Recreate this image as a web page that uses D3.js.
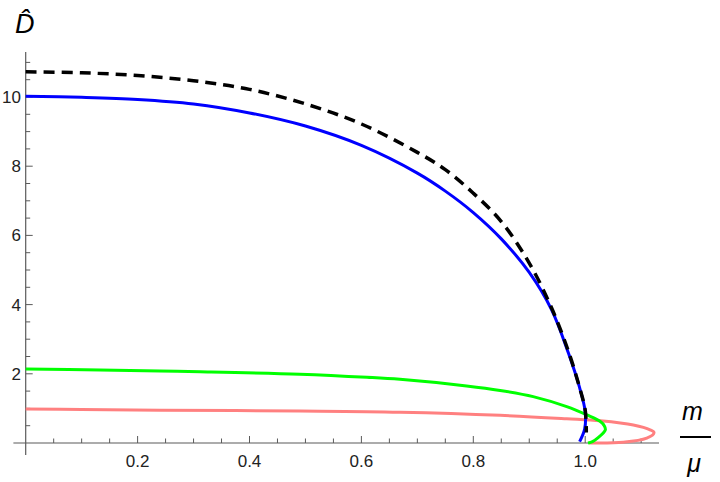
<!DOCTYPE html>
<html>
<head>
<meta charset="utf-8">
<script src="https://cdn.jsdelivr.net/npm/d3@7"></script>
<style>
  body { margin: 0; background: #fff; }
  svg { display: block; font-family: "Liberation Sans", Arial, sans-serif; }
</style>
</head>
<body>
<div id="my_plot"></div>
<script>
var width = 720, height = 482;

// tick values
var xMajor = [0.2, 0.4, 0.6, 0.8, 1.0];
var yMajor = [2, 4, 6, 8, 10];

// curves: [m/mu, D]
var pinkCurve = [[0,0.98],[0.1,0.97],[0.24,0.95],[0.49,0.925],[0.669,0.89],[0.848,0.8],[0.967,0.7],
  [1.027,0.64],[1.086,0.52],[1.116,0.38],[1.123,0.3],[1.11,0.14],[1.068,0.02],[1.007,0.0]];
var greenCurve = [[0,2.14],[0.133,2.11],[0.24,2.08],[0.312,2.06],[0.49,1.99],[0.61,1.9],
  [0.669,1.84],[0.788,1.65],[0.848,1.52],[0.907,1.34],[0.967,1.05],[1.003,0.81],[1.027,0.62],
  [1.034,0.5],[1.036,0.38],[1.022,0.14],[1.013,0.04],[1.005,0.0]];
var blueCurve = [[0,10.02],[0.1,9.99],[0.2,9.93],[0.3,9.8],[0.4,9.54],[0.5,9.16],[0.6,8.6],
  [0.7,7.8],[0.75,7.28],[0.8,6.66],[0.85,5.9],[0.9,4.93],[0.94,3.85],[0.97,2.6],[0.99,1.6],
  [1.0,0.9],[0.999,0.4],[0.99,0.04]];
var blackCurve = [[0,10.73],[0.1,10.7],[0.2,10.62],[0.3,10.47],[0.4,10.22],[0.5,9.8],[0.6,9.22],
  [0.7,8.4],[0.75,7.9],[0.8,7.22],[0.85,6.4],[0.9,5.2],[0.94,3.9],[0.97,2.65],[0.99,1.6],
  [1.0,0.95],[1.002,0.3]];

var svg = d3.select("#my_plot")
  .append("svg")
    .attr("width", width)
    .attr("height", height);

var x = d3.scaleLinear().domain([0, 1]).range([25.7, 585.2]);
var y = d3.scaleLinear().domain([0, 10]).range([443, 97]);

var axisColor = "#5a5a5a";

//X-axis line
svg.append("line")
  .attr("x1", x(-0.022)).attr("x2", x(1.132))
  .attr("y1", y(0)).attr("y2", y(0))
  .attr("stroke", axisColor).attr("stroke-width", 1.2);
//Y-axis line
svg.append("line")
  .attr("x1", x(0)).attr("x2", x(0))
  .attr("y1", y(-0.35)).attr("y2", y(11.3))
  .attr("stroke", axisColor).attr("stroke-width", 1.2);

// x ticks
var xTicks = d3.range(1, 23).map(function(i){ return i * 0.05; });
svg.append("g").selectAll("line")
  .data(xTicks)
  .enter()
  .append("line")
    .attr("x1", function(d){ return x(d); })
    .attr("x2", function(d){ return x(d); })
    .attr("y1", y(0))
    .attr("y2", function(d, i){ return y(0) - ((i + 1) % 4 == 0 ? 7 : 4.5); })
    .attr("stroke", axisColor);
svg.append("g").selectAll("text")
  .data(xMajor)
  .enter()
  .append("text")
    .attr("x", function(d){ return x(d); })
    .attr("y", 467)
    .attr("text-anchor", "middle")
    .style("font-size", "17px")
    .attr("fill", "#222")
    .text(function(d){ return d.toFixed(1); });

// y ticks
var yTicks = d3.range(1, 23).map(function(i){ return i * 0.5; });
svg.append("g").selectAll("line")
  .data(yTicks)
  .enter()
  .append("line")
    .attr("x1", x(0))
    .attr("x2", function(d, i){ return x(0) + ((i + 1) % 4 == 0 ? 7 : 4.5); })
    .attr("y1", function(d){ return y(d); })
    .attr("y2", function(d){ return y(d); })
    .attr("stroke", axisColor);
svg.append("g").selectAll("text")
  .data(yMajor)
  .enter()
  .append("text")
    .attr("x", 21)
    .attr("y", function(d){ return y(d); })
    .attr("dy", "0.35em")
    .attr("text-anchor", "end")
    .style("font-size", "17px")
    .attr("fill", "#222")
    .text(function(d){ return d; });

// curves
var line = d3.line()
  .x(function(d){ return x(d[0]); })
  .y(function(d){ return y(d[1]); })
  .curve(d3.curveCatmullRom.alpha(0.5));

svg.append("path").datum(pinkCurve)
  .attr("d", line).attr("fill", "none")
  .attr("stroke", "#ff8080").attr("stroke-width", 3);
svg.append("path").datum(greenCurve)
  .attr("d", line).attr("fill", "none")
  .attr("stroke", "#00ff00").attr("stroke-width", 3);
svg.append("path").datum(blueCurve)
  .attr("d", line).attr("fill", "none")
  .attr("stroke", "#0000ff").attr("stroke-width", 3);
svg.append("path").datum(blackCurve)
  .attr("d", line).attr("fill", "none")
  .attr("stroke", "#000").attr("stroke-width", 3.5)
  .attr("stroke-dasharray", "11,7");

//Y-axis title
svg.append("text")
  .attr("x", 15)
  .attr("y", 33)
  .style("font-size", "27px")
  .style("font-style", "italic")
  .text("D\u0302");

//X-axis title (fraction m / mu)
svg.append("text")
  .attr("x", 692.5)
  .attr("y", 420)
  .attr("text-anchor", "middle")
  .style("font-size", "25px")
  .style("font-style", "italic")
  .text("m");
svg.append("line")
  .attr("x1", 680).attr("x2", 711)
  .attr("y1", 437).attr("y2", 437)
  .attr("stroke", "#000").attr("stroke-width", 2);
svg.append("text")
  .attr("x", 694)
  .attr("y", 472)
  .attr("text-anchor", "middle")
  .style("font-size", "25px")
  .style("font-style", "italic")
  .text("\u03bc");
</script>
</body>
</html>
